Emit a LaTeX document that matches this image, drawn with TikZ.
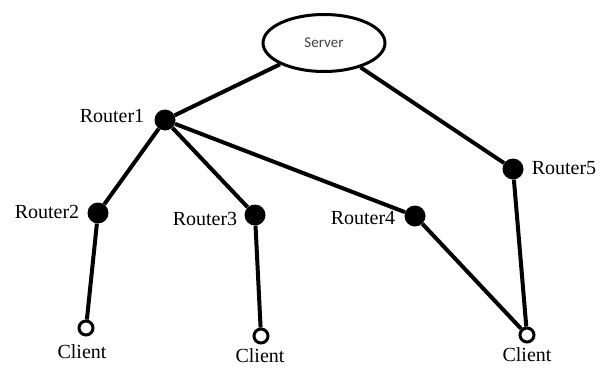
\documentclass[tikz,border=0pt]{standalone}
\usepackage{fontspec}
\setmainfont{Liberation Serif}
\newfontfamily\srvfont{Carlito}
\usetikzlibrary{shapes.geometric}
\begin{document}
\begin{tikzpicture}[x=1pt,y=-1pt,
  router/.style={circle,fill=black,inner sep=0pt,minimum size=21pt},
  client/.style={circle,draw=black,line width=3pt,fill=white,inner sep=0pt,minimum size=14pt},
  lab/.style={font=\fontsize{20}{20}\selectfont,inner sep=0pt},
  link/.style={line width=4pt}]
\useasboundingbox (0,0) rectangle (600,367);
\node[ellipse,draw,line width=3pt,minimum width=122pt,minimum height=57pt,inner sep=0pt,font=\srvfont\fontsize{15}{15}\selectfont,text=black!75] (srv) at (324,43) {Server};
\node[router] (r1) at (165,120) {};
\node[router] (r2) at (98,213) {};
\node[router] (r3) at (255,215) {};
\node[router] (r4) at (415,216) {};
\node[router] (r5) at (513,169) {};
\node[client] (c1) at (86,328) {};
\node[client] (c2) at (261,336) {};
\node[client] (c3) at (527,335) {};
\draw[link] (srv) -- (r1);
\draw[link] (srv) -- (r5);
\draw[link] (r1) -- (r2);
\draw[link] (r1) -- (r3);
\draw[link] (r1) -- (r4);
\draw[link] (r2) -- (c1);
\draw[link] (r3) -- (c2);
\draw[link] (r4) -- (c3);
\draw[link] (r5) -- (c3);
\node[lab] (l1) at (112,116) {Router1};
\node[lab] (l2) at (47,212) {Router2};
\node[lab] (l3) at (205,219) {Router3};
\node[lab] (l4) at (363,218) {Router4};
\node[lab] (l5) at (564,168) {Router5};
\node[lab] (lc1) at (82,352) {Client};
\node[lab] (lc2) at (260,356) {Client};
\node[lab] (lc3) at (527,355) {Client};
\end{tikzpicture}
\end{document}
